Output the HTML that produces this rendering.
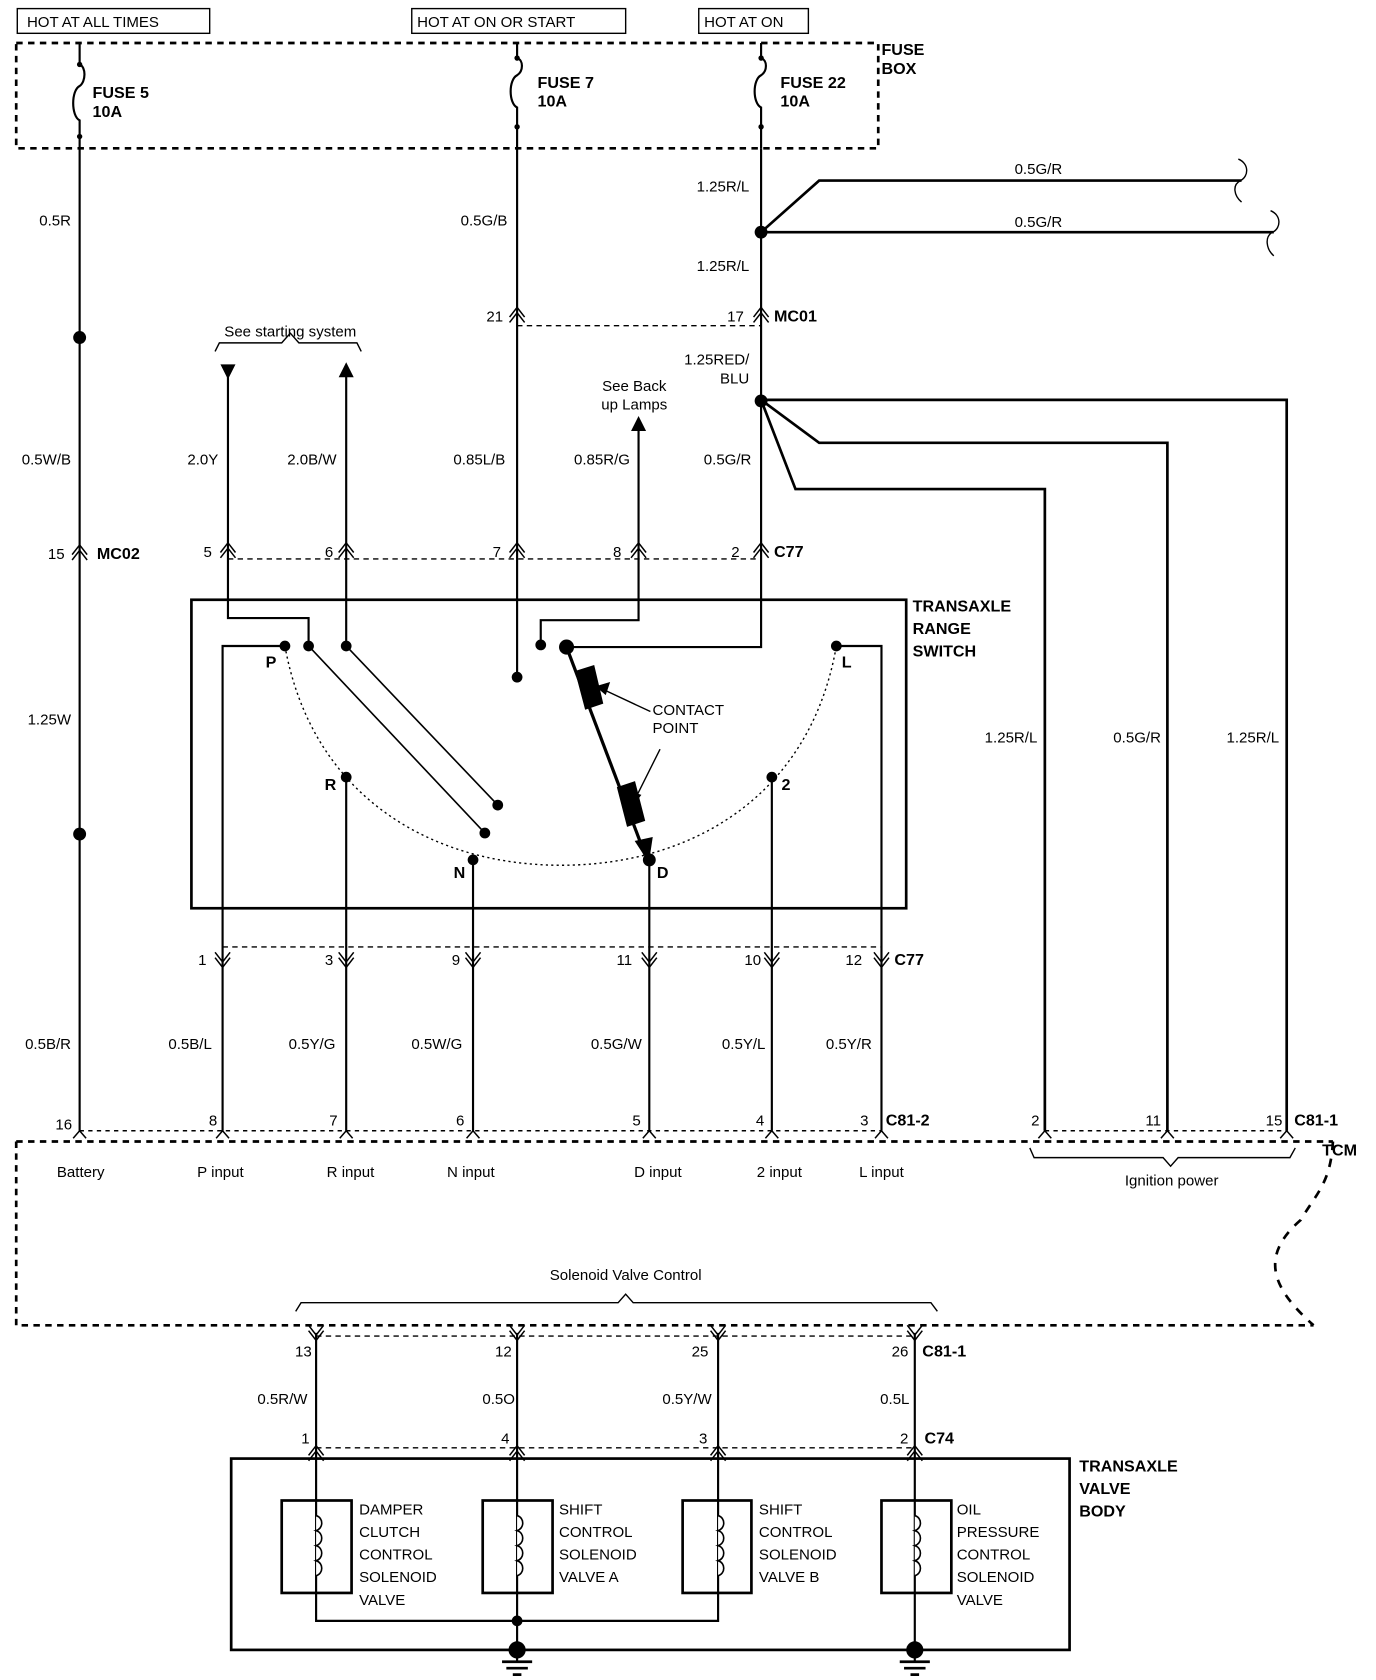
<!DOCTYPE html>
<html><head><meta charset="utf-8"><style>
html,body{margin:0;padding:0;background:#fff}
svg{display:block}
text{font-family:"Liberation Sans",Arial,sans-serif;font-size:14px;fill:#000}
.b{font-weight:bold;font-size:15px}
.r{text-anchor:end}
.m{text-anchor:middle}
</style></head><body>
<svg width="1376" height="1680" viewBox="0 0 1280 1563" xmlns="http://www.w3.org/2000/svg">
<defs>
<g id="up"><path d="M-7,9 L0,0 L7,9 M-7,14 L0,5 L7,14" fill="none" stroke="#000" stroke-width="1.4"/></g>
<g id="dn"><path d="M-7,-9 L0,0 L7,-9 M-7,-14 L0,-5 L7,-14" fill="none" stroke="#000" stroke-width="1.4"/></g>
<g id="tri"><path d="M-6,7 L0,0 L6,7" fill="none" stroke="#000" stroke-width="1.4"/></g>
</defs>
<g fill="none" stroke="#000" stroke-width="2">
<!-- headers -->
<rect x="16" y="8" width="179" height="23" stroke-width="1.3"/>
<rect x="383" y="8" width="199" height="23" stroke-width="1.3"/>
<rect x="650" y="8" width="102" height="23" stroke-width="1.3"/>
<!-- fuse box -->
<rect x="15" y="40" width="802" height="98" stroke-dasharray="6,5" stroke-width="2.5"/>
<!-- fuses -->
<path d="M74,40 V60 C80,62 80,76 74,80 C66,84 66,108 74,112 V138"/>
<path d="M481,40 V54 C487,56 487,66 481,70 C473,74 473,96 481,100 V138"/>
<path d="M708,40 V54 C714,56 714,66 708,70 C700,74 700,96 708,100 V138"/>
<!-- main verticals -->
<path d="M74,138 V1052"/>
<path d="M481,138 V630"/>
<path d="M708,138 V602 H527"/>
<path d="M708,216 L762,168 H1155 M708,216 H1185" stroke-width="2.5"/>
<path d="M1152,148 C1162,152 1162,164 1154,168 C1146,172 1148,182 1155,188 M1182,196 C1192,200 1192,212 1184,216 C1176,220 1178,232 1185,238" stroke-width="1.3"/>
<path d="M708,372 H1197 V1052 M708,372 L762,412 H1086 V1052 M708,372 L740,455 H972 V1052" stroke-width="2.5"/>
<path d="M481,303 H708" stroke-dasharray="5,4" stroke-width="1.3"/>
<!-- starting system -->
<path d="M212,345 V575 H287 V601"/>
<path d="M322,345 V601"/>
<path d="M594,395 V577 H503 V600"/>
<path d="M200,327 L204,319 H262 L270,310 L278,319 H332 L336,327" stroke-width="1.3"/>
<path d="M212,520 H708" stroke-dasharray="5,4" stroke-width="1.3"/>
<!-- switch -->
<rect x="178" y="558" width="665" height="287" stroke-width="2.5"/>
<path d="M265,601 C290,740 400,805 522,805 C644,805 754,740 778,601" stroke-dasharray="2,3" stroke-width="1.3"/>
<path d="M287,601 L451,775 M322,601 L463,749" stroke-width="1.5"/>
<path d="M527,602 L600,795" stroke-width="3"/>
<path d="M592,783 L603,800 L606,780 Z" fill="#000"/>
<path d="M536,625 L552,620 L560,654 L545,659 Z M575,733 L590,728 L599,763 L584,768 Z" fill="#000"/>
<path d="M605,662 L558,640 M614,697 L590,745" stroke-width="1.3"/>
<path d="M556,639 L566,636 L563,645 Z M589,748 L586,737 L595,740 Z" fill="#000"/>
<!-- lower wires -->
<path d="M265,601 H207 V1052 M322,723 V1052 M440,800 V1052 M604,800 V1052 M718,723 V1052 M778,601 H820 V1052"/>
<path d="M207,881 H820" stroke-dasharray="5,4" stroke-width="1.3"/>
<path d="M74,1052 H820 M972,1052 H1197" stroke-dasharray="4,4" stroke-width="1.3"/>
<!-- TCM -->
<path d="M15,1062 H1240 M15,1062 V1233 H1222" stroke-dasharray="6,5" stroke-width="2.5"/>
<path d="M1240,1062 C1238,1100 1225,1110 1210,1135 C1170,1170 1185,1200 1222,1233" stroke-dasharray="8,8" stroke-width="2.5"/>
<path d="M958,1068 L962,1077 H1082 L1089,1085 L1096,1077 H1200 L1205,1068" stroke-width="1.3"/>
<path d="M275,1220 L280,1212 H575 L582,1204 L589,1212 H866 L872,1220" stroke-width="1.3"/>
<!-- solenoid wires -->
<path d="M294,1240 V1508 H668 V1240 M481,1240 V1535 M851,1240 V1535"/>
<path d="M294,1243 H851 M294,1347 H851" stroke-dasharray="5,4" stroke-width="1.3"/>
<rect x="215" y="1357" width="780" height="178" stroke-width="2.5"/>
<g stroke-width="2.5">
<rect x="262" y="1396" width="65" height="86"/><rect x="449" y="1396" width="65" height="86"/>
<rect x="635" y="1396" width="64" height="86"/><rect x="820" y="1396" width="65" height="86"/>
</g>
<g fill="#fff" stroke-width="1.5">
<path d="M294,1410 c7,2 7,12 0,14 c7,2 7,12 0,14 c7,2 7,12 0,14 c7,2 7,12 0,14"/>
<path d="M481,1410 c7,2 7,12 0,14 c7,2 7,12 0,14 c7,2 7,12 0,14 c7,2 7,12 0,14"/>
<path d="M668,1410 c7,2 7,12 0,14 c7,2 7,12 0,14 c7,2 7,12 0,14 c7,2 7,12 0,14"/>
<path d="M851,1410 c7,2 7,12 0,14 c7,2 7,12 0,14 c7,2 7,12 0,14 c7,2 7,12 0,14"/>
</g>
<path d="M467,1546 H495 M471,1552 H491 M477,1558 H485 M837,1546 H865 M841,1552 H861 M847,1558 H855" stroke-width="2.5"/>
<path d="M481,1535 V1546 M851,1535 V1546"/>
</g>
<!-- dots -->
<g fill="#000">
<circle cx="74" cy="60" r="2.5"/><circle cx="74" cy="127" r="2.5"/>
<circle cx="481" cy="54" r="2.5"/><circle cx="481" cy="118" r="2.5"/>
<circle cx="708" cy="54" r="2.5"/><circle cx="708" cy="118" r="2.5"/>
<circle cx="74" cy="314" r="6"/><circle cx="74" cy="776" r="6"/>
<circle cx="708" cy="216" r="6"/><circle cx="708" cy="373" r="6"/>
<circle cx="265" cy="601" r="5"/><circle cx="287" cy="601" r="5"/><circle cx="322" cy="601" r="5"/>
<circle cx="481" cy="630" r="5"/><circle cx="503" cy="600" r="5"/><circle cx="527" cy="602" r="7"/>
<circle cx="778" cy="601" r="5"/><circle cx="322" cy="723" r="5"/><circle cx="718" cy="723" r="5"/>
<circle cx="440" cy="800" r="5"/><circle cx="604" cy="800" r="6"/>
<circle cx="451" cy="775" r="5"/><circle cx="463" cy="749" r="5"/>
<circle cx="481" cy="1508" r="5"/><circle cx="481" cy="1535" r="8"/><circle cx="851" cy="1535" r="8"/>
<path d="M205,339 L219,339 L212,353 Z M315,351 L329,351 L322,337 Z M587,401 L601,401 L594,387 Z"/>
</g>
<!-- connectors -->
<use href="#up" x="74" y="507"/><use href="#up" x="481" y="286"/><use href="#up" x="708" y="286"/>
<use href="#up" x="212" y="505"/><use href="#up" x="322" y="505"/><use href="#up" x="481" y="505"/><use href="#up" x="594" y="505"/><use href="#up" x="708" y="505"/>
<use href="#dn" x="207" y="900"/><use href="#dn" x="322" y="900"/><use href="#dn" x="440" y="900"/><use href="#dn" x="604" y="900"/><use href="#dn" x="718" y="900"/><use href="#dn" x="820" y="900"/>
<use href="#tri" x="74" y="1052"/><use href="#tri" x="207" y="1052"/><use href="#tri" x="322" y="1052"/><use href="#tri" x="440" y="1052"/><use href="#tri" x="604" y="1052"/><use href="#tri" x="718" y="1052"/><use href="#tri" x="820" y="1052"/>
<use href="#tri" x="972" y="1052"/><use href="#tri" x="1086" y="1052"/><use href="#tri" x="1197" y="1052"/>
<use href="#dn" x="294" y="1247"/><use href="#dn" x="481" y="1247"/><use href="#dn" x="668" y="1247"/><use href="#dn" x="851" y="1247"/>
<use href="#up" x="294" y="1345"/><use href="#up" x="481" y="1345"/><use href="#up" x="668" y="1345"/><use href="#up" x="851" y="1345"/>
<!-- text -->
<text x="25" y="25">HOT AT ALL TIMES</text>
<text x="388" y="25">HOT AT ON OR START</text>
<text x="655" y="25">HOT AT ON</text>
<text class="b" x="820" y="51">FUSE</text><text class="b" x="820" y="69">BOX</text>
<text class="b" x="86" y="91">FUSE 5</text><text class="b" x="86" y="109">10A</text>
<text class="b" x="500" y="82">FUSE 7</text><text class="b" x="500" y="99">10A</text>
<text class="b" x="726" y="82">FUSE 22</text><text class="b" x="726" y="99">10A</text>
<text class="r" x="66" y="210">0.5R</text>
<text class="r" x="472" y="210">0.5G/B</text>
<text class="r" x="697" y="178">1.25R/L</text>
<text class="r" x="697" y="252">1.25R/L</text>
<text class="m" x="966" y="162">0.5G/R</text><text class="m" x="966" y="211">0.5G/R</text>
<text class="r" x="468" y="299">21</text><text class="r" x="692" y="299">17</text><text class="b" x="720" y="299">MC01</text>
<text class="r" x="697" y="339">1.25RED/</text><text class="r" x="697" y="357">BLU</text>
<text class="m" x="270" y="313">See starting system</text>
<text class="m" x="590" y="364">See Back</text><text class="m" x="590" y="381">up Lamps</text>
<text class="r" x="66" y="432">0.5W/B</text><text class="r" x="203" y="432">2.0Y</text><text class="r" x="313" y="432">2.0B/W</text>
<text class="r" x="470" y="432">0.85L/B</text><text class="r" x="586" y="432">0.85R/G</text><text class="r" x="699" y="432">0.5G/R</text>
<text class="r" x="60" y="520">15</text><text class="b" x="90" y="520">MC02</text>
<text class="r" x="197" y="518">5</text><text class="r" x="310" y="518">6</text><text class="r" x="466" y="518">7</text><text class="r" x="578" y="518">8</text><text class="r" x="688" y="518">2</text><text class="b" x="720" y="518">C77</text>
<text class="b" x="849" y="569">TRANSAXLE</text><text class="b" x="849" y="590">RANGE</text><text class="b" x="849" y="611">SWITCH</text>
<text class="r" x="66" y="674">1.25W</text>
<text class="b" x="247" y="621">P</text><text class="b" x="783" y="621">L</text>
<text class="b" x="302" y="735">R</text><text class="b" x="727" y="735">2</text>
<text class="b" x="422" y="817">N</text><text class="b" x="611" y="817">D</text>
<text x="607" y="665">CONTACT</text><text x="607" y="682">POINT</text>
<text class="r" x="965" y="691">1.25R/L</text><text class="r" x="1080" y="691">0.5G/R</text><text class="r" x="1190" y="691">1.25R/L</text>
<text class="r" x="192" y="898">1</text><text class="r" x="310" y="898">3</text><text class="r" x="428" y="898">9</text><text class="r" x="588" y="898">11</text><text class="r" x="708" y="898">10</text><text class="r" x="802" y="898">12</text><text class="b" x="832" y="898">C77</text>
<text class="r" x="66" y="976">0.5B/R</text><text class="r" x="197" y="976">0.5B/L</text><text class="r" x="312" y="976">0.5Y/G</text><text class="r" x="430" y="976">0.5W/G</text><text class="r" x="597" y="976">0.5G/W</text><text class="r" x="712" y="976">0.5Y/L</text><text class="r" x="811" y="976">0.5Y/R</text>
<text class="r" x="67" y="1051">16</text><text class="r" x="202" y="1047">8</text><text class="r" x="314" y="1047">7</text><text class="r" x="432" y="1047">6</text><text class="r" x="596" y="1047">5</text><text class="r" x="711" y="1047">4</text><text class="r" x="808" y="1047">3</text><text class="b" x="824" y="1047">C81-2</text>
<text class="r" x="967" y="1047">2</text><text class="r" x="1080" y="1047">11</text><text class="r" x="1193" y="1047">15</text><text class="b" x="1204" y="1047">C81-1</text>
<text class="b" x="1230" y="1075">TCM</text>
<text class="m" x="75" y="1095">Battery</text><text class="m" x="205" y="1095">P input</text><text class="m" x="326" y="1095">R input</text><text class="m" x="438" y="1095">N input</text><text class="m" x="612" y="1095">D input</text><text class="m" x="725" y="1095">2 input</text><text class="m" x="820" y="1095">L input</text>
<text class="m" x="1090" y="1103">Ignition power</text>
<text class="m" x="582" y="1191">Solenoid Valve Control</text>
<text class="r" x="290" y="1262">13</text><text class="r" x="476" y="1262">12</text><text class="r" x="659" y="1262">25</text><text class="r" x="845" y="1262">26</text><text class="b" x="858" y="1262">C81-1</text>
<text class="r" x="286" y="1306">0.5R/W</text><text class="r" x="479" y="1306">0.5O</text><text class="r" x="662" y="1306">0.5Y/W</text><text class="r" x="846" y="1306">0.5L</text>
<text class="r" x="288" y="1343">1</text><text class="r" x="474" y="1343">4</text><text class="r" x="658" y="1343">3</text><text class="r" x="845" y="1343">2</text><text class="b" x="860" y="1343">C74</text>
<text class="b" x="1004" y="1369">TRANSAXLE</text><text class="b" x="1004" y="1390">VALVE</text><text class="b" x="1004" y="1411">BODY</text>
<g class="v">
<text x="334" y="1409">DAMPER</text><text x="334" y="1430">CLUTCH</text><text x="334" y="1451">CONTROL</text><text x="334" y="1472">SOLENOID</text><text x="334" y="1493">VALVE</text>
<text x="520" y="1409">SHIFT</text><text x="520" y="1430">CONTROL</text><text x="520" y="1451">SOLENOID</text><text x="520" y="1472">VALVE A</text>
<text x="706" y="1409">SHIFT</text><text x="706" y="1430">CONTROL</text><text x="706" y="1451">SOLENOID</text><text x="706" y="1472">VALVE B</text>
<text x="890" y="1409">OIL</text><text x="890" y="1430">PRESSURE</text><text x="890" y="1451">CONTROL</text><text x="890" y="1472">SOLENOID</text><text x="890" y="1493">VALVE</text>
</g>
</svg>
</body></html>
